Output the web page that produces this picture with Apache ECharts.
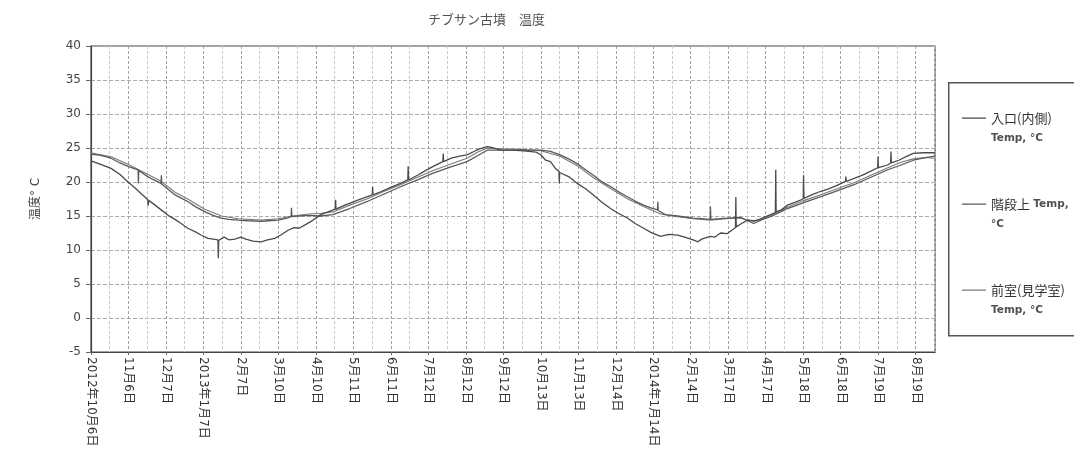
<!DOCTYPE html>
<html>
<head>
<meta charset="utf-8">
<script src="https://cdn.jsdelivr.net/npm/echarts@6/dist/echarts.min.js"></script>
<style>
  html, body { margin: 0; padding: 0; background: #fff; }
  #chart { width: 1074px; height: 462px; }
</style>
</head>
<body>
<div id="chart"></div>
<script>
// Days are counted from 2012-10-06; ticks every 31 days.
const startYear = 2012, startMonth = 9, startDay = 6;
const dayMin = 0, dayMax = 698, dayStep = 31;
const tempMin = -5, tempMax = 40, tempStep = 5;

const titleText = 'チブサン古墳　温度';
const yAxisTitle = '温度° C';
const seriesNames = ['入口(内側) Temp, °C', '階段上 Temp, °C', '前室(見学室) Temp, °C'];

// [day, °C] readings
const entrance = [[0,23.1],[8,22.6],[16.6,22.0],[24,21.1],[30.6,20.0],[36,19.2],[41.4,18.3],[47,17.4],[47.3,16.5],[47.6,17.3],[53,16.6],[58,15.9],[63.7,15.1],[69.5,14.5],[74.5,13.9],[80,13.2],[86,12.7],[91,12.2],[96.8,11.7],[101,11.6],[105,11.5],[105.3,8.8],[105.6,11.4],[110,11.9],[114,11.5],[119,11.6],[124,11.9],[128,11.6],[134,11.3],[140.7,11.2],[146,11.5],[152,11.7],[157,12.2],[163,12.9],[168,13.3],[172,13.2],[177,13.7],[182,14.2],[190,15.2],[196,15.6],[202,16.0],[202.3,17.4],[202.6,16.0],[210,16.6],[220,17.3],[228,17.8],[232.6,18.1],[232.9,19.3],[233.2,18.1],[240,18.6],[248,19.2],[256,19.8],[262,20.3],[262.3,22.3],[262.6,20.3],[270,21.0],[277,21.7],[283,22.3],[291,23.0],[291.3,24.2],[291.6,23.0],[298,23.5],[305,23.8],[311,24.0],[318,24.6],[322,24.9],[328,25.2],[333,25.0],[338.5,24.7],[347,24.7],[355,24.6],[362,24.5],[368,24.4],[372,24.0],[376,23.2],[380,23.0],[384,22.0],[387,21.6],[387.3,19.8],[387.6,21.4],[395,20.8],[402,19.8],[409,19.0],[415.5,18.1],[422,17.1],[429.6,16.1],[436,15.4],[443.6,14.7],[450,13.9],[457,13.2],[463,12.6],[471,12.0],[478,12.3],[485,12.2],[491,11.9],[498,11.5],[502,11.2],[505,11.6],[512,12.0],[516,11.9],[520.6,12.5],[526,12.4],[530,12.9],[533,13.3],[533.3,17.8],[533.6,13.4],[538,13.9],[543,14.4],[548,14.3],[553,14.5],[558,14.9],[562,15.2],[566,15.5],[566.3,21.8],[566.6,15.6],[571,15.9],[576,16.6],[582,17.0],[589,17.5],[589.3,21.0],[589.6,17.6],[596,18.1],[603,18.6],[610,19.0],[617,19.5],[624,20.1],[624.3,20.8],[624.6,20.1],[630.7,20.5],[638,21.0],[645,21.6],[650.6,22.1],[650.9,23.7],[651.2,22.1],[658.8,22.5],[661.3,22.8],[661.6,24.5],[661.9,22.8],[668,23.2],[675,23.8],[680,24.2],[688,24.3],[698,24.3]];

const stairs = [[0,24.1],[8,23.9],[16.6,23.5],[24,22.8],[30.6,22.3],[38.9,21.8],[39.2,19.8],[39.5,21.7],[46,20.9],[52,20.3],[57.9,19.8],[58.2,21.0],[58.5,19.7],[64,18.9],[69.5,18.1],[75,17.6],[80.3,17.1],[87,16.3],[94.4,15.6],[101,15.1],[107.6,14.7],[114,14.5],[121.7,14.4],[130,14.3],[140.7,14.2],[147,14.3],[154.8,14.4],[162,14.7],[165.5,14.9],[165.8,16.2],[166.1,14.9],[172,15.0],[180,15.1],[190,15.0],[200,15.2],[214,16.1],[228,17.1],[242,18.2],[256,19.3],[270,20.3],[283,21.3],[297,22.2],[311,23.0],[320,23.9],[328,24.7],[338,24.7],[355,24.7],[372,24.7],[380,24.5],[388,24.0],[395,23.4],[402,22.7],[409,21.8],[415.5,21.0],[422,20.1],[430,19.3],[437,18.5],[444,17.8],[450,17.2],[457,16.6],[463,16.2],[468.5,15.9],[468.8,17.1],[469.1,15.8],[475,15.2],[485,15.0],[498,14.7],[505,14.6],[512,14.5],[512.3,16.4],[512.6,14.5],[520,14.6],[526,14.7],[537,14.8],[543,14.3],[548,13.9],[554,14.4],[562,14.9],[569,15.5],[576,16.1],[590,17.0],[603,17.8],[617,18.7],[631,19.6],[645,20.7],[659,21.8],[670,22.5],[680,23.2],[690,23.6],[698,23.8]];

const frontRoom = [[0,24.3],[16.6,23.7],[30.6,22.6],[46,21.2],[58,20.1],[69.5,18.5],[80,17.5],[94,16.0],[108,15.0],[122,14.6],[141,14.4],[155,14.6],[166,15.0],[180,15.3],[190,15.4],[200,15.6],[214,16.6],[228,17.5],[242,18.6],[256,19.6],[270,20.7],[283,21.7],[297,22.6],[311,23.5],[320,24.4],[328,25.0],[340,24.9],[355,24.8],[372,24.6],[388,23.8],[402,22.4],[415,20.7],[430,19.0],[444,17.5],[457,16.4],[471,15.3],[485,14.9],[498,14.6],[512,14.4],[526,14.6],[537,14.7],[548,14.2],[562,15.1],[576,16.3],[590,17.3],[603,18.1],[617,19.0],[631,19.9],[645,21.0],[659,22.1],[670,22.9],[680,23.4],[690,23.6],[698,23.5]];

const legendText = {
  [seriesNames[0]]: '{a|入口(内側)}\n{b|Temp, °C}',
  [seriesNames[1]]: '{a|階段上} {b|Temp,}\n{b|°C}',
  [seriesNames[2]]: '{a|前室(見学室)}\n{b|Temp, °C}'
};

function dayLabel(d) {
  const dt = new Date(startYear, startMonth, startDay + Math.round(d));
  const m = dt.getMonth() + 1, day = dt.getDate();
  if (d === dayMin || m === 1) return dt.getFullYear() + '年' + m + '月' + day + '日';
  return m + '月' + day + '日';
}

const cjk = '"Noto Sans CJK JP", "Noto Sans", sans-serif';
const latin = '"DejaVu Sans", Verdana, sans-serif';
const mixed = '"DejaVu Sans", "Noto Sans CJK JP", sans-serif';

const chart = echarts.init(document.getElementById('chart'), null, { renderer: 'canvas' });

function lineSeries(name, data, color, width, z) {
  return {
    name, type: 'line', data, z,
    showSymbol: false, symbol: 'none',
    lineStyle: { color, width },
    itemStyle: { color },
    animation: false
  };
}

chart.setOption({
  backgroundColor: '#fff',
  animation: false,
  title: {
    text: titleText,
    left: 423, top: 8,
    textStyle: { fontFamily: cjk, fontSize: 13, fontWeight: 'normal', color: '#555' }
  },
  grid: {
    left: 91, right: 139, top: 46, bottom: 110,
    show: true, borderColor: '#444', borderWidth: 1.2
  },
  graphic: [{
    type: 'rect', left: 948, top: 82, z: 0, silent: true,
    shape: { width: 140, height: 253 },
    style: { fill: '#fff', stroke: '#555', lineWidth: 1.5 }
  }],
  legend: {
    orient: 'vertical',
    left: 957, top: 103,
    itemWidth: 24, itemHeight: 40, itemGap: 46,
    icon: 'path://M0,9.5H24V10.7H0Z M0,0H0.01V0.01H0Z M23.99,39.99H24V40H23.99Z',
    itemStyle: { borderWidth: 0 },
    formatter: name => legendText[name],
    textStyle: {
      color: '#333',
      rich: {
        a: { fontFamily: cjk, fontSize: 13, lineHeight: 20, color: '#333' },
        b: { fontFamily: latin, fontSize: 10.5, fontWeight: 'bold', lineHeight: 20, color: '#505050' }
      }
    },
    z: 5
  },
  xAxis: {
    type: 'value',
    min: dayMin, max: dayMax, interval: dayStep,
    axisLine: { show: true, onZero: false, lineStyle: { color: '#444', width: 1.2 } },
    axisTick: { show: true, length: 3, lineStyle: { color: '#666' } },
    axisLabel: {
      rotate: -90, margin: 5, showMaxLabel: false,
      fontFamily: mixed, fontSize: 12, color: '#333',
      formatter: v => dayLabel(v)
    },
    splitLine: { show: true, lineStyle: { color: '#a0a0a0', type: [3, 2], width: 1 } },
    minorTick: { show: false, splitNumber: 2 },
    minorSplitLine: { show: true, lineStyle: { color: '#c8c8c8', type: [3, 2], width: 1 } }
  },
  yAxis: {
    type: 'value',
    min: tempMin, max: tempMax, interval: tempStep,
    name: yAxisTitle, nameLocation: 'middle', nameGap: 49,
    nameTextStyle: { fontFamily: mixed, fontSize: 12, color: '#444' },
    axisLine: { show: true, lineStyle: { color: '#444', width: 1.2 } },
    axisTick: { show: true, length: 5, lineStyle: { color: '#666' } },
    axisLabel: { margin: 10, fontFamily: latin, fontSize: 12, color: '#444' },
    splitLine: { show: true, lineStyle: { color: '#ababab', type: [4, 2], width: 1 } }
  },
  series: [
    lineSeries(seriesNames[0], entrance, '#4a4a4a', 1.3, 4),
    lineSeries(seriesNames[1], stairs, '#5a5a5a', 1.3, 3),
    lineSeries(seriesNames[2], frontRoom, '#7a7a7a', 1.1, 2)
  ]
});
</script>
</body>
</html>
